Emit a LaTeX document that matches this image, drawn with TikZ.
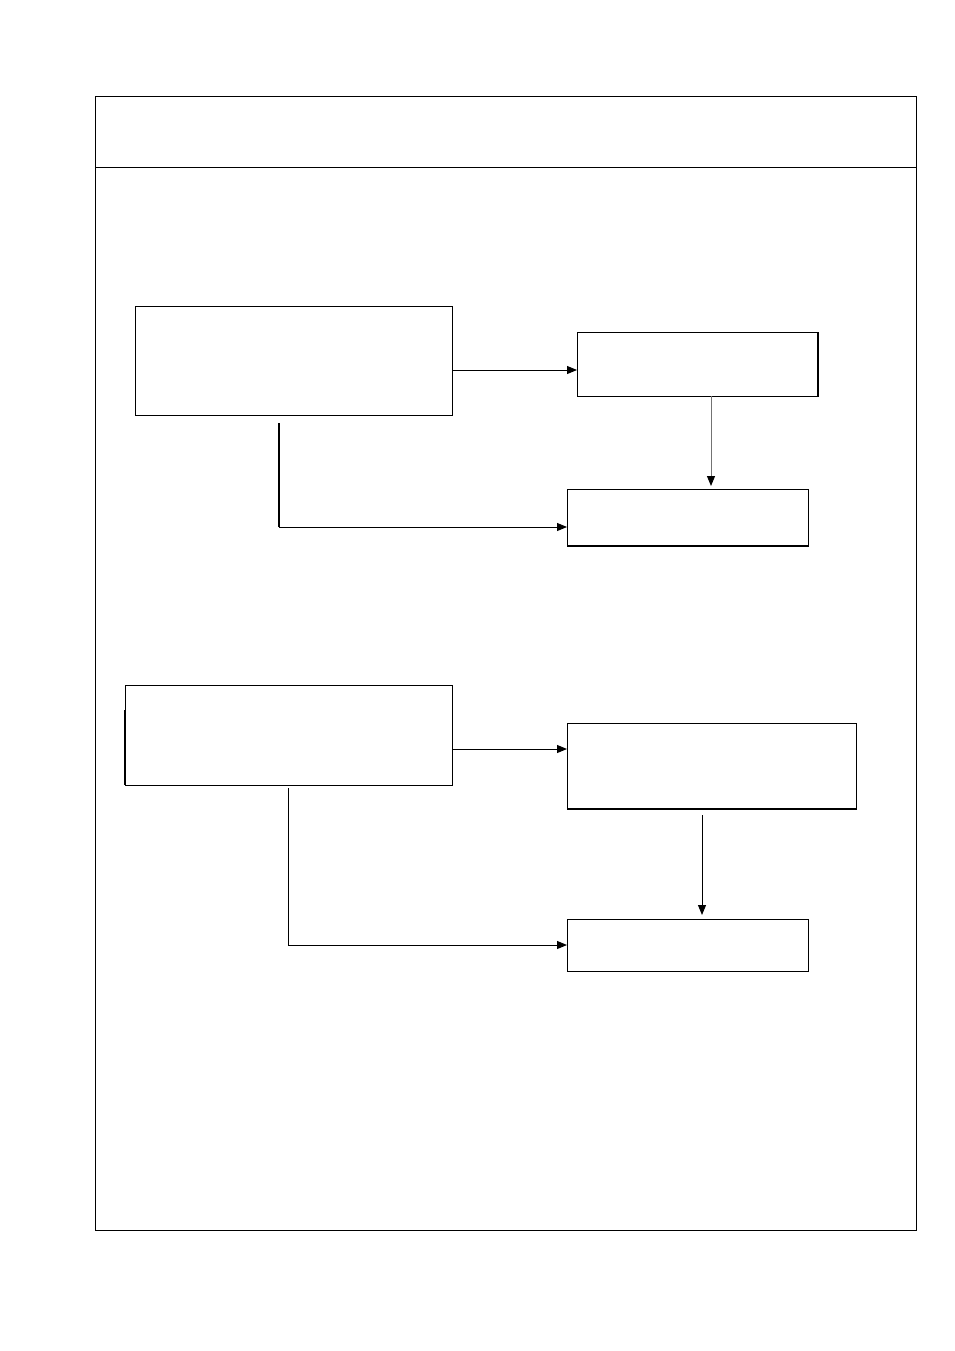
\documentclass[tikz,border=0pt]{standalone}
\usetikzlibrary{arrows.meta}
\begin{document}
\begin{tikzpicture}[x=1pt,y=-1pt,
  box/.style={draw,line width=1pt,rectangle,anchor=north west,inner sep=0pt,outer sep=0pt},
  conn/.style={line width=1pt,-{Triangle[length=10pt,width=8pt]}},
  grayconn/.style={line width=1pt,draw=black!55,-{Triangle[length=10pt,width=8pt,color=black]}}]
\useasboundingbox (0,0) rectangle (954,1351);
\fill[white] (0,0) rectangle (954,1351);
% outer frame
\node[box,minimum width=821pt,minimum height=1133pt] (frame) at (95,97) {};
\coordinate (hl) at (95,168);
\coordinate (hr) at (916,168);
\draw[line width=1pt] (hl) -- (hr);
% upper group
\node[box,minimum width=317pt,minimum height=109pt] (a1) at (135,306) {};
\node[box,minimum width=241pt,minimum height=64pt] (b1) at (577,332) {};
\node[box,minimum width=241pt,minimum height=57pt] (c1) at (567,489) {};
\draw[line width=1.8pt] (b1.north east) -- (b1.south east);
\draw[line width=1.8pt] (c1.south west) -- (c1.south east);
\coordinate (y1) at (0,370);
\draw[conn] (a1.east |- y1) -- (b1.west |- y1);
\coordinate (x1) at (711,486);
\draw[grayconn] (b1.south -| x1) -- (x1);
\coordinate (s1) at (279,423);
\coordinate (k1) at (279,527);
\draw[line width=1.4pt] (s1) -- (k1);
\draw[conn] (k1) -- (c1.west |- k1);
% lower group
\node[box,minimum width=327pt,minimum height=100pt] (a2) at (125,685) {};
\node[box,minimum width=289pt,minimum height=86pt] (b2) at (567,723) {};
\node[box,minimum width=241pt,minimum height=52pt] (c2) at (567,919) {};
\draw[line width=1.8pt] (b2.south west) -- (b2.south east);
\coordinate (l1) at (125,710);
\coordinate (l2) at (125,785);
\draw[line width=1.8pt] (l1) -- (l2);
\coordinate (y2) at (0,749);
\draw[conn] (a2.east |- y2) -- (b2.west |- y2);
\coordinate (s2) at (702,815);
\coordinate (e2) at (702,915);
\draw[conn] (s2) -- (e2);
\coordinate (s3) at (288,788);
\coordinate (k3) at (288,945);
\draw[line width=1pt] (s3) -- (k3);
\draw[conn] (k3) -- (c2.west |- k3);
\end{tikzpicture}
\end{document}
